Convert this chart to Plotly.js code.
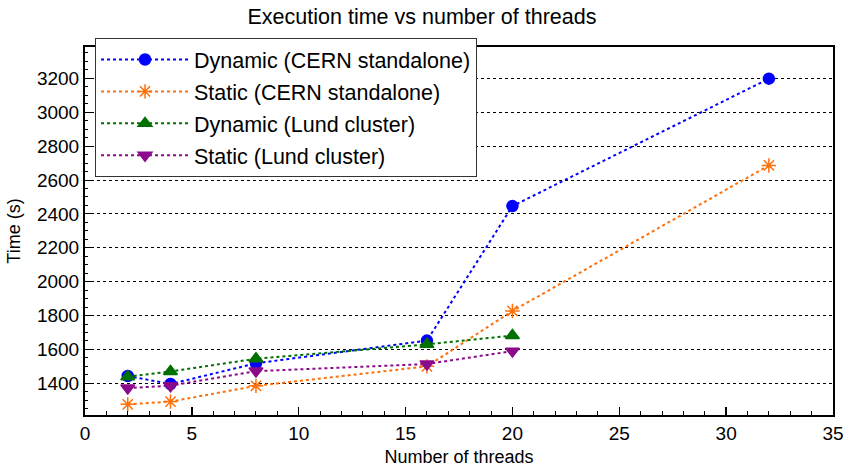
<!DOCTYPE html>
<html><head><meta charset="utf-8">
<script src="https://cdn.plot.ly/plotly-3.0.1.min.js"></script>
<style>html,body{margin:0;padding:0;background:#fff}</style>
</head><body><div id="chart" style="width:844px;height:471px"></div>
<script>
var threadsCern = [2, 4, 8, 16, 20, 32];
var threadsLund = [2, 4, 8, 16, 20];
var dynamicCern = [1443, 1396, 1518, 1652, 2446, 3198];
var staticCern = [1276, 1292, 1385, 1500, 1827, 2686];
var dynamicLund = [1439, 1470, 1545, 1630, 1682];
var staticLund = [1372, 1386, 1472, 1514, 1590];
var seriesNames = ["Dynamic (CERN standalone)", "Static (CERN standalone)", "Dynamic (Lund cluster)", "Static (Lund cluster)"];

var F = "Liberation Sans, Arial, sans-serif";
function tr(x, y, name, color, symbol, size, grp) {
  return {x: x, y: y, name: name, type: "scatter", mode: "lines+markers", legendgroup: grp,
    line: {color: color, dash: "dot", width: 2},
    marker: {color: color, symbol: symbol, size: size, line: {color: color, width: 1.5}}};
}
var data = [
  tr(threadsCern, dynamicCern, seriesNames[0], "#0000ff", "circle", 11, "a"),
  tr(threadsCern, staticCern, seriesNames[1], "#ff6f0a", "asterisk-open", 12, "b"),
  tr(threadsLund, dynamicLund, seriesNames[2], "#007000", "triangle-up", 12, "c"),
  tr(threadsLund, staticLund, seriesNames[3], "#8b0a8b", "triangle-down", 12, "d")
];
var layout = {
  width: 844, height: 471,
  margin: {l: 85, r: 11, t: 47, b: 56},
  paper_bgcolor: "#fff", plot_bgcolor: "#fff",
  font: {family: F, color: "#000", size: 19},
  title: {text: "Execution time vs number of threads", font: {size: 21.5, family: F}, x: 0.5, xanchor: "center", y: 0.965, yanchor: "middle"},
  xaxis: {range: [0, 35], dtick: 5, tick0: 0, showgrid: false, zeroline: false,
    showline: true, linecolor: "#000", linewidth: 2, mirror: true,
    ticks: "inside", ticklen: 8, tickwidth: 1.5, tickcolor: "#000",
    minor: {dtick: 1, ticks: "inside", ticklen: 4, tickcolor: "#000", tickwidth: 1, showgrid: false},
    tickfont: {size: 19}, title: {text: "Number of threads", font: {size: 18}, standoff: 8}},
  yaxis: {range: [1213, 3385], dtick: 200, tick0: 0, showgrid: true, gridcolor: "#000", griddash: "dot", gridwidth: 1,
    zeroline: false, showline: true, linecolor: "#000", linewidth: 2, mirror: true,
    ticks: "inside", ticklen: 8, tickwidth: 1, tickcolor: "#000",
    minor: {dtick: 50, ticks: "inside", ticklen: 3, tickcolor: "#000", tickwidth: 1, showgrid: false},
    tickfont: {size: 19}, title: {text: "Time (s)", font: {size: 18}, standoff: 12}},
  legend: {x: 0.0134, y: 1.0245, xanchor: "left", yanchor: "top",
    bgcolor: "#fff", bordercolor: "#333", borderwidth: 1,
    font: {size: 21.5, family: F}, tracegroupgap: 1, itemwidth: 88}
};
Plotly.newPlot("chart", data, layout, {displayModeBar: false, staticPlot: true});
</script></body></html>
